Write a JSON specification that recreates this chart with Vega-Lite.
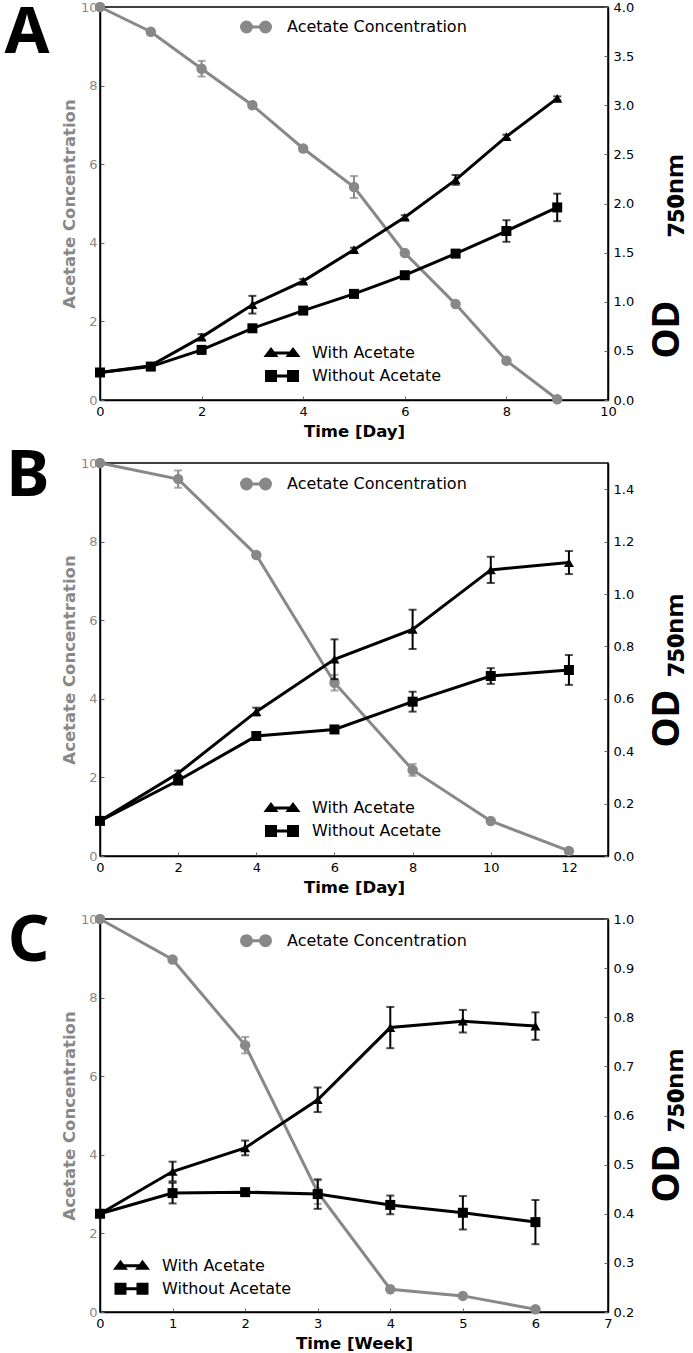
{
  "$schema": "https://vega.github.io/schema/vega-lite/v6.json",
  "padding": {"left": 3, "top": 0, "right": 0, "bottom": 0},
  "background": "white",
  "datasets": {
    "A": [
      {"t": 0, "s": "Acetate Concentration", "v": 10.0, "e": 0},
      {"t": 1, "s": "Acetate Concentration", "v": 9.37, "e": 0},
      {"t": 2, "s": "Acetate Concentration", "v": 8.43, "e": 0.2},
      {"t": 3, "s": "Acetate Concentration", "v": 7.5, "e": 0},
      {"t": 4, "s": "Acetate Concentration", "v": 6.4, "e": 0},
      {"t": 5, "s": "Acetate Concentration", "v": 5.42, "e": 0.28},
      {"t": 6, "s": "Acetate Concentration", "v": 3.74, "e": 0},
      {"t": 7, "s": "Acetate Concentration", "v": 2.44, "e": 0},
      {"t": 8, "s": "Acetate Concentration", "v": 1.0, "e": 0},
      {"t": 9, "s": "Acetate Concentration", "v": 0.02, "e": 0},
      {"t": 0, "s": "With Acetate", "v": 0.28, "e": 0},
      {"t": 1, "s": "With Acetate", "v": 0.35, "e": 0},
      {"t": 2, "s": "With Acetate", "v": 0.64, "e": 0.03},
      {"t": 3, "s": "With Acetate", "v": 0.97, "e": 0.09},
      {"t": 4, "s": "With Acetate", "v": 1.21, "e": 0.02},
      {"t": 5, "s": "With Acetate", "v": 1.53, "e": 0.02},
      {"t": 6, "s": "With Acetate", "v": 1.86, "e": 0.02},
      {"t": 7, "s": "With Acetate", "v": 2.24, "e": 0.05},
      {"t": 8, "s": "With Acetate", "v": 2.68, "e": 0.02},
      {"t": 9, "s": "With Acetate", "v": 3.07, "e": 0.02},
      {"t": 0, "s": "Without Acetate", "v": 0.28, "e": 0},
      {"t": 1, "s": "Without Acetate", "v": 0.34, "e": 0},
      {"t": 2, "s": "Without Acetate", "v": 0.51, "e": 0},
      {"t": 3, "s": "Without Acetate", "v": 0.73, "e": 0},
      {"t": 4, "s": "Without Acetate", "v": 0.91, "e": 0},
      {"t": 5, "s": "Without Acetate", "v": 1.08, "e": 0},
      {"t": 6, "s": "Without Acetate", "v": 1.27, "e": 0},
      {"t": 7, "s": "Without Acetate", "v": 1.49, "e": 0},
      {"t": 8, "s": "Without Acetate", "v": 1.72, "e": 0.11},
      {"t": 9, "s": "Without Acetate", "v": 1.96, "e": 0.14}
    ],
    "B": [
      {"t": 0, "s": "Acetate Concentration", "v": 10.0, "e": 0},
      {"t": 2, "s": "Acetate Concentration", "v": 9.59, "e": 0.22},
      {"t": 4, "s": "Acetate Concentration", "v": 7.66, "e": 0},
      {"t": 6, "s": "Acetate Concentration", "v": 4.41, "e": 0.2},
      {"t": 8, "s": "Acetate Concentration", "v": 2.19, "e": 0.15},
      {"t": 10, "s": "Acetate Concentration", "v": 0.89, "e": 0},
      {"t": 12, "s": "Acetate Concentration", "v": 0.13, "e": 0},
      {"t": 0, "s": "With Acetate", "v": 0.134, "e": 0},
      {"t": 2, "s": "With Acetate", "v": 0.316, "e": 0.01},
      {"t": 4, "s": "With Acetate", "v": 0.551, "e": 0.015},
      {"t": 6, "s": "With Acetate", "v": 0.751, "e": 0.076},
      {"t": 8, "s": "With Acetate", "v": 0.865, "e": 0.075},
      {"t": 10, "s": "With Acetate", "v": 1.092, "e": 0.05},
      {"t": 12, "s": "With Acetate", "v": 1.12, "e": 0.044},
      {"t": 0, "s": "Without Acetate", "v": 0.134, "e": 0},
      {"t": 2, "s": "Without Acetate", "v": 0.288, "e": 0.01},
      {"t": 4, "s": "Without Acetate", "v": 0.458, "e": 0.015},
      {"t": 6, "s": "Without Acetate", "v": 0.483, "e": 0.01},
      {"t": 8, "s": "Without Acetate", "v": 0.589, "e": 0.038},
      {"t": 10, "s": "Without Acetate", "v": 0.687, "e": 0.03},
      {"t": 12, "s": "Without Acetate", "v": 0.71, "e": 0.057}
    ],
    "C": [
      {"t": 0, "s": "Acetate Concentration", "v": 10.0, "e": 0},
      {"t": 1, "s": "Acetate Concentration", "v": 8.97, "e": 0},
      {"t": 2, "s": "Acetate Concentration", "v": 6.79, "e": 0.21},
      {"t": 3, "s": "Acetate Concentration", "v": 3.05, "e": 0.3},
      {"t": 4, "s": "Acetate Concentration", "v": 0.58, "e": 0},
      {"t": 5, "s": "Acetate Concentration", "v": 0.41, "e": 0},
      {"t": 6, "s": "Acetate Concentration", "v": 0.07, "e": 0},
      {"t": 0, "s": "With Acetate", "v": 0.4, "e": 0},
      {"t": 1, "s": "With Acetate", "v": 0.486, "e": 0.02},
      {"t": 2, "s": "With Acetate", "v": 0.534, "e": 0.015},
      {"t": 3, "s": "With Acetate", "v": 0.632, "e": 0.025},
      {"t": 4, "s": "With Acetate", "v": 0.779, "e": 0.042},
      {"t": 5, "s": "With Acetate", "v": 0.792, "e": 0.023},
      {"t": 6, "s": "With Acetate", "v": 0.782, "e": 0.028},
      {"t": 0, "s": "Without Acetate", "v": 0.4, "e": 0},
      {"t": 1, "s": "Without Acetate", "v": 0.442, "e": 0.021},
      {"t": 2, "s": "Without Acetate", "v": 0.444, "e": 0.005},
      {"t": 3, "s": "Without Acetate", "v": 0.44, "e": 0.03},
      {"t": 4, "s": "Without Acetate", "v": 0.418, "e": 0.019},
      {"t": 5, "s": "Without Acetate", "v": 0.402, "e": 0.034},
      {"t": 6, "s": "Without Acetate", "v": 0.383, "e": 0.045}
    ]
  },
  "vconcat": [
    {
      "width": 508, "height": 393,
      "title": {"text": "A", "orient": "left", "anchor": "end", "angle": 0, "align": "left", "baseline": "top", "offset": 12, "dy": -5, "frame": "group"},
      "data": {"name": "A"},
      "encoding": {
        "x": {"field": "t", "type": "quantitative", "scale": {"domain": [0, 10], "nice": false, "zero": false},
              "axis": {"title": "Time [Day]", "values": [0, 2, 4, 6, 8, 10], "format": "d", "labelColor": "#000", "titleColor": "#000", "labelPadding": 9, "titlePadding": 5}}
      },
      "layer": [
        {
          "encoding": {
            "y": {"field": "v", "type": "quantitative", "scale": {"domain": [0, 10], "nice": false},
                  "axis": {"orient": "left", "title": "Acetate Concentration", "values": [0, 2, 4, 6, 8, 10], "format": "d", "labelColor": "#888888", "titleColor": "#888888", "labelPadding": 7, "titlePadding": 3}},
            "color": {"field": "s", "type": "nominal", "scale": {"domain": ["Acetate Concentration"], "range": ["#888888"]},
                      "legend": {"title": null, "orient": "none", "legendX": 145, "legendY": 9, "labelOffset": 20,
                                 "encode": {"symbols": {"update": {"shape": {"value": "M-1,0L1,0M-0.474,0A0.526,0.526,0,1,1,-1.526,0A0.526,0.526,0,1,1,-0.474,0ZM1.526,0A0.526,0.526,0,1,1,0.474,0A0.526,0.526,0,1,1,1.526,0Z"}, "fill": {"value": "#888888"}, "stroke": {"value": "#888888"}, "strokeWidth": {"value": 3}, "opacity": {"value": 1}}}}}}
          },
          "layer": [
            {"transform": [{"filter": "datum.s === 'Acetate Concentration'"}], "mark": {"type": "line", "strokeWidth": 3}},
            {"transform": [{"filter": "datum.s === 'Acetate Concentration' && datum.e > 0"}], "mark": {"type": "errorbar", "ticks": true, "size": 8, "thickness": 2}, "encoding": {"yError": {"field": "e"}}},
            {"transform": [{"filter": "datum.s === 'Acetate Concentration'"}], "mark": {"type": "point", "filled": true, "opacity": 1, "size": 110}}
          ]
        },
        {
          "encoding": {
            "y": {"field": "v", "type": "quantitative", "scale": {"domain": [0, 4], "nice": false},
                  "axis": {"orient": "right", "title": "OD\u2003\u2002\u2009\u2087\u2085\u2080\u2099\u2098", "values": [0, 0.5, 1, 1.5, 2, 2.5, 3, 3.5, 4], "format": ".1f", "labelColor": "#000", "labelPadding": 9, "titleFont": "Noto Sans", "titleFontSize": 38, "titleColor": "#000", "titleAngle": 270, "titleBaseline": "alphabetic", "titleAlign": "left", "titleX": 70, "titleY": 351}},
            "color": {"field": "s", "type": "nominal", "scale": {"domain": ["With Acetate", "Without Acetate"], "range": ["#000000", "#000000"]},
                      "legend": {"title": null, "orient": "none", "legendX": 171, "legendY": 335, "labelOffset": 19, "rowPadding": 3,
                                 "encode": {"symbols": {"update": {"shape": {"signal": "datum.value === 'With Acetate' ? 'M-1.158,0L1.158,0M-1.632,0.263L-0.684,0.263L-1.158,-0.368ZM0.684,0.263L1.632,0.263L1.158,-0.368Z' : 'M-1.158,0L1.158,0M-1.632,-0.474L-0.684,-0.474L-0.684,0.474L-1.632,0.474ZM0.684,-0.474L1.632,-0.474L1.632,0.474L0.684,0.474Z'"}, "fill": {"value": "#000"}, "stroke": {"value": "#000"}, "strokeWidth": {"value": 3}, "opacity": {"value": 1}}}}}}
          },
          "layer": [
            {"transform": [{"filter": "datum.s !== 'Acetate Concentration'"}], "mark": {"type": "line", "strokeWidth": 3}},
            {"transform": [{"filter": "datum.s !== 'Acetate Concentration' && datum.e > 0"}], "mark": {"type": "errorbar", "ticks": true, "size": 8, "thickness": 2}, "encoding": {"yError": {"field": "e"}}},
            {"transform": [{"filter": "datum.s !== 'Acetate Concentration'"}], "mark": {"type": "point", "filled": true, "opacity": 0, "size": 10}},
            {"transform": [{"filter": "datum.s === 'With Acetate'"}], "mark": {"type": "point", "shape": "triangle-up", "filled": true, "opacity": 1, "size": 100}, "encoding": {"color": {"value": "#000"}}},
            {"transform": [{"filter": "datum.s === 'Without Acetate'"}], "mark": {"type": "point", "shape": "square", "filled": true, "opacity": 1, "size": 100}, "encoding": {"color": {"value": "#000"}}}
          ]
        }
      ],
      "resolve": {"scale": {"y": "independent", "color": "independent"}}
    },
    {
      "width": 508, "height": 393,
      "title": {"text": "B", "orient": "left", "anchor": "end", "angle": 0, "align": "left", "baseline": "top", "offset": 12, "dy": -18, "frame": "group"},
      "data": {"name": "B"},
      "encoding": {
        "x": {"field": "t", "type": "quantitative", "scale": {"domain": [0, 13], "nice": false, "zero": false},
              "axis": {"title": "Time [Day]", "values": [0, 2, 4, 6, 8, 10, 12], "format": "d", "labelColor": "#000", "titleColor": "#000", "labelPadding": 9, "titlePadding": 5}}
      },
      "layer": [
        {
          "encoding": {
            "y": {"field": "v", "type": "quantitative", "scale": {"domain": [0, 10], "nice": false},
                  "axis": {"orient": "left", "title": "Acetate Concentration", "values": [0, 2, 4, 6, 8, 10], "format": "d", "labelColor": "#888888", "titleColor": "#888888", "labelPadding": 7, "titlePadding": 3}},
            "color": {"field": "s", "type": "nominal", "scale": {"domain": ["Acetate Concentration"], "range": ["#888888"]},
                      "legend": {"title": null, "orient": "none", "legendX": 145, "legendY": 10, "labelOffset": 20,
                                 "encode": {"symbols": {"update": {"shape": {"value": "M-1,0L1,0M-0.474,0A0.526,0.526,0,1,1,-1.526,0A0.526,0.526,0,1,1,-0.474,0ZM1.526,0A0.526,0.526,0,1,1,0.474,0A0.526,0.526,0,1,1,1.526,0Z"}, "fill": {"value": "#888888"}, "stroke": {"value": "#888888"}, "strokeWidth": {"value": 3}, "opacity": {"value": 1}}}}}}
          },
          "layer": [
            {"transform": [{"filter": "datum.s === 'Acetate Concentration'"}], "mark": {"type": "line", "strokeWidth": 3}},
            {"transform": [{"filter": "datum.s === 'Acetate Concentration' && datum.e > 0"}], "mark": {"type": "errorbar", "ticks": true, "size": 8, "thickness": 2}, "encoding": {"yError": {"field": "e"}}},
            {"transform": [{"filter": "datum.s === 'Acetate Concentration'"}], "mark": {"type": "point", "filled": true, "opacity": 1, "size": 110}}
          ]
        },
        {
          "encoding": {
            "y": {"field": "v", "type": "quantitative", "scale": {"domain": [0, 1.5], "nice": false},
                  "axis": {"orient": "right", "title": "OD\u2004\u2087\u2085\u2080\u2099\u2098", "values": [0, 0.2, 0.4, 0.6, 0.8, 1, 1.2, 1.4], "format": ".1f", "labelColor": "#000", "labelPadding": 9, "titleFont": "Noto Sans", "titleFontSize": 38, "titleColor": "#000", "titleAngle": 270, "titleBaseline": "alphabetic", "titleAlign": "left", "titleX": 70, "titleY": 284}},
            "color": {"field": "s", "type": "nominal", "scale": {"domain": ["With Acetate", "Without Acetate"], "range": ["#000000", "#000000"]},
                      "legend": {"title": null, "orient": "none", "legendX": 171, "legendY": 334, "labelOffset": 19, "rowPadding": 3,
                                 "encode": {"symbols": {"update": {"shape": {"signal": "datum.value === 'With Acetate' ? 'M-1.158,0L1.158,0M-1.632,0.263L-0.684,0.263L-1.158,-0.368ZM0.684,0.263L1.632,0.263L1.158,-0.368Z' : 'M-1.158,0L1.158,0M-1.632,-0.474L-0.684,-0.474L-0.684,0.474L-1.632,0.474ZM0.684,-0.474L1.632,-0.474L1.632,0.474L0.684,0.474Z'"}, "fill": {"value": "#000"}, "stroke": {"value": "#000"}, "strokeWidth": {"value": 3}, "opacity": {"value": 1}}}}}}
          },
          "layer": [
            {"transform": [{"filter": "datum.s !== 'Acetate Concentration'"}], "mark": {"type": "line", "strokeWidth": 3}},
            {"transform": [{"filter": "datum.s !== 'Acetate Concentration' && datum.e > 0"}], "mark": {"type": "errorbar", "ticks": true, "size": 8, "thickness": 2}, "encoding": {"yError": {"field": "e"}}},
            {"transform": [{"filter": "datum.s !== 'Acetate Concentration'"}], "mark": {"type": "point", "filled": true, "opacity": 0, "size": 10}},
            {"transform": [{"filter": "datum.s === 'With Acetate'"}], "mark": {"type": "point", "shape": "triangle-up", "filled": true, "opacity": 1, "size": 100}, "encoding": {"color": {"value": "#000"}}},
            {"transform": [{"filter": "datum.s === 'Without Acetate'"}], "mark": {"type": "point", "shape": "square", "filled": true, "opacity": 1, "size": 100}, "encoding": {"color": {"value": "#000"}}}
          ]
        }
      ],
      "resolve": {"scale": {"y": "independent", "color": "independent"}}
    },
    {
      "width": 508, "height": 393,
      "title": {"text": "C", "orient": "left", "anchor": "end", "angle": 0, "align": "left", "baseline": "top", "offset": 12, "dy": -9, "frame": "group"},
      "data": {"name": "C"},
      "encoding": {
        "x": {"field": "t", "type": "quantitative", "scale": {"domain": [0, 7], "nice": false, "zero": false},
              "axis": {"title": "Time [Week]", "values": [0, 1, 2, 3, 4, 5, 6, 7], "format": "d", "labelColor": "#000", "titleColor": "#000", "labelPadding": 9, "titlePadding": 5}}
      },
      "layer": [
        {
          "encoding": {
            "y": {"field": "v", "type": "quantitative", "scale": {"domain": [0, 10], "nice": false},
                  "axis": {"orient": "left", "title": "Acetate Concentration", "values": [0, 2, 4, 6, 8, 10], "format": "d", "labelColor": "#888888", "titleColor": "#888888", "labelPadding": 7, "titlePadding": 3}},
            "color": {"field": "s", "type": "nominal", "scale": {"domain": ["Acetate Concentration"], "range": ["#888888"]},
                      "legend": {"title": null, "orient": "none", "legendX": 145, "legendY": 10.7, "labelOffset": 20,
                                 "encode": {"symbols": {"update": {"shape": {"value": "M-1,0L1,0M-0.474,0A0.526,0.526,0,1,1,-1.526,0A0.526,0.526,0,1,1,-0.474,0ZM1.526,0A0.526,0.526,0,1,1,0.474,0A0.526,0.526,0,1,1,1.526,0Z"}, "fill": {"value": "#888888"}, "stroke": {"value": "#888888"}, "strokeWidth": {"value": 3}, "opacity": {"value": 1}}}}}}
          },
          "layer": [
            {"transform": [{"filter": "datum.s === 'Acetate Concentration'"}], "mark": {"type": "line", "strokeWidth": 3}},
            {"transform": [{"filter": "datum.s === 'Acetate Concentration' && datum.e > 0"}], "mark": {"type": "errorbar", "ticks": true, "size": 8, "thickness": 2}, "encoding": {"yError": {"field": "e"}}},
            {"transform": [{"filter": "datum.s === 'Acetate Concentration'"}], "mark": {"type": "point", "filled": true, "opacity": 1, "size": 110}}
          ]
        },
        {
          "encoding": {
            "y": {"field": "v", "type": "quantitative", "scale": {"domain": [0.2, 1.0], "nice": false, "zero": false},
                  "axis": {"orient": "right", "title": "OD\u2004\u2087\u2085\u2080\u2099\u2098", "values": [0.2, 0.3, 0.4, 0.5, 0.6, 0.7, 0.8, 0.9, 1.0], "format": ".1f", "labelColor": "#000", "labelPadding": 9, "titleFont": "Noto Sans", "titleFontSize": 38, "titleColor": "#000", "titleAngle": 270, "titleBaseline": "alphabetic", "titleAlign": "left", "titleX": 70, "titleY": 283}},
            "color": {"field": "s", "type": "nominal", "scale": {"domain": ["With Acetate", "Without Acetate"], "range": ["#000000", "#000000"]},
                      "legend": {"title": null, "orient": "none", "legendX": 20.5, "legendY": 335.7, "labelOffset": 19.5, "rowPadding": 3,
                                 "encode": {"symbols": {"update": {"shape": {"signal": "datum.value === 'With Acetate' ? 'M-1.158,0L1.158,0M-1.632,0.263L-0.684,0.263L-1.158,-0.368ZM0.684,0.263L1.632,0.263L1.158,-0.368Z' : 'M-1.158,0L1.158,0M-1.632,-0.474L-0.684,-0.474L-0.684,0.474L-1.632,0.474ZM0.684,-0.474L1.632,-0.474L1.632,0.474L0.684,0.474Z'"}, "fill": {"value": "#000"}, "stroke": {"value": "#000"}, "strokeWidth": {"value": 3}, "opacity": {"value": 1}}}}}}
          },
          "layer": [
            {"transform": [{"filter": "datum.s !== 'Acetate Concentration'"}], "mark": {"type": "line", "strokeWidth": 3}},
            {"transform": [{"filter": "datum.s !== 'Acetate Concentration' && datum.e > 0"}], "mark": {"type": "errorbar", "ticks": true, "size": 8, "thickness": 2}, "encoding": {"yError": {"field": "e"}}},
            {"transform": [{"filter": "datum.s !== 'Acetate Concentration'"}], "mark": {"type": "point", "filled": true, "opacity": 0, "size": 10}},
            {"transform": [{"filter": "datum.s === 'With Acetate'"}], "mark": {"type": "point", "shape": "triangle-up", "filled": true, "opacity": 1, "size": 100}, "encoding": {"color": {"value": "#000"}}},
            {"transform": [{"filter": "datum.s === 'Without Acetate'"}], "mark": {"type": "point", "shape": "square", "filled": true, "opacity": 1, "size": 100}, "encoding": {"color": {"value": "#000"}}}
          ]
        }
      ],
      "resolve": {"scale": {"y": "independent", "color": "independent"}}
    }
  ],
  "spacing": 63,
  "bounds": "flush",
  "resolve": {"scale": {"color": "independent"}},
  "config": {
    "font": "DejaVu Sans",
    "view": {"stroke": "#000", "strokeWidth": 1.5},
    "axis": {"labelFont": "DejaVu Sans", "labelFontSize": 13, "titleFont": "DejaVu Sans", "titleFontSize": 16.5, "titleFontWeight": "bold", "grid": false, "domainColor": "#000", "domainWidth": 1.5, "tickSize": -4, "tickColor": "#666", "tickWidth": 1, "labelFlush": false, "labelOverlap": false},
    "legend": {"labelFont": "DejaVu Sans", "labelFontSize": 16, "labelColor": "#000", "labelLimit": 400, "padding": 0, "rowPadding": 0, "symbolSize": 361, "symbolStrokeWidth": 3},
    "title": {"font": "Noto Sans", "fontSize": 65, "fontWeight": "bold", "color": "#000"}
  }
}
